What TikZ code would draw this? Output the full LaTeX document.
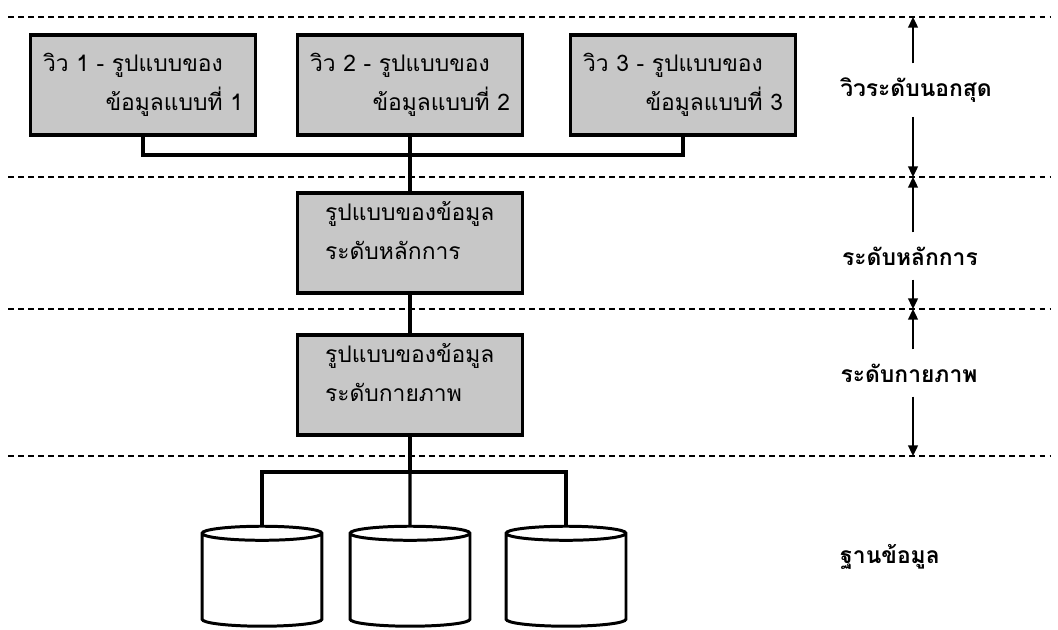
\documentclass[tikz,border=0pt]{standalone}
\usepackage{fontspec}
\newfontfamily\thaifont[Script=Thai]{Loma}
\usetikzlibrary{shapes.geometric,arrows.meta}

\begin{document}
\begin{tikzpicture}[x=0.02cm,y=-0.02cm,>={Triangle[length=6pt,width=5.5pt]},
  font={\thaifont\fontsize{13}{22}\selectfont},
  sep/.style={dash pattern=on 3.4pt off 2.3pt,line width=1pt},
  view/.style={draw,line width=1.9pt,fill=black!22,minimum width=4.5cm,minimum height=2cm,text width=4.0cm,align=left},
  lvlbox/.style={view,text width=3.4cm},
  link/.style={line width=1.8pt},
  db/.style={draw,cylinder,shape border rotate=90,aspect=1.2,line width=1.7pt,minimum width=2.4cm,minimum height=2cm},
  lvl/.style={inner xsep=2pt,inner ysep=8pt,font={\thaifont\bfseries\fontsize{13}{16}\selectfont}},
  dim/.style={->,line width=1.1pt}]
  \useasboundingbox (0,0) rectangle (1058,629);
  % level separators
  \draw[sep] (8,17) -- (1050,17);
  \draw[sep] (8,177) -- (1050,177);
  \draw[sep] (8,309) -- (1050,309);
  \draw[sep] (8,456) -- (1050,456);
  % external views
  \node[view] (v1) at (143,85) {วิว 1 - รูปแบบของ\\\mbox{}\hfill ข้อมูลแบบที่ 1};
  \node[view] (v2) at (410,85) {วิว 2 - รูปแบบของ\\\mbox{}\hfill ข้อมูลแบบที่ 2};
  \node[view] (v3) at (683,85) {วิว 3 - รูปแบบของ\\\mbox{}\hfill ข้อมูลแบบที่ 3};
  % conceptual and physical
  \node[lvlbox] (con) at (410,243) {รูปแบบของข้อมูล\\ระดับหลักการ\\[-8pt]\mbox{}};
  \node[lvlbox] (phy) at (410,385) {รูปแบบของข้อมูล\\ระดับกายภาพ\\[-8pt]\mbox{}};
  % databases
  \node[db] (db1) at (262,582) {};
  \node[db] (db2) at (410,582) {};
  \node[db] (db3) at (566,582) {};
  \coordinate (join) at (410,155);
  \coordinate (hub) at (410,472);
  \draw[link] (v1.south) |- (join) -| (v3.south);
  \draw[link] (v2.south) -- (con.north);
  \draw[link] (con.south) -- (phy.north);
  \draw[link] (phy.south) -- (hub);
  \draw[link] (db1.north) |- (hub) -| (db3.north);
  \draw[link] (hub) -- (db2.north);
  % level labels
  \coordinate (m0) at (913,17);
  \coordinate (m1) at (913,177);
  \coordinate (m2) at (913,309);
  \coordinate (m3) at (913,456);
  \node[lvl] (l1) at (916,90) {วิวระดับนอกสุด};
  \node[lvl] (l2) at (910,256) {ระดับหลักการ};
  \node[lvl] (l3) at (909,373) {ระดับกายภาพ};
  \node[lvl] (l4) at (890,557) {ฐานข้อมูล};
  \draw[dim] (m0 |- l1.north) -- (m0);
  \draw[dim] (m0 |- l1.south) -- (m1);
  \draw[dim] (m1 |- l2.north) -- (m1);
  \draw[dim] (m1 |- l2.south) -- (m2);
  \draw[dim] (m2 |- l3.north) -- (m2);
  \draw[dim] (m2 |- l3.south) -- (m3);
\end{tikzpicture}
\end{document}
